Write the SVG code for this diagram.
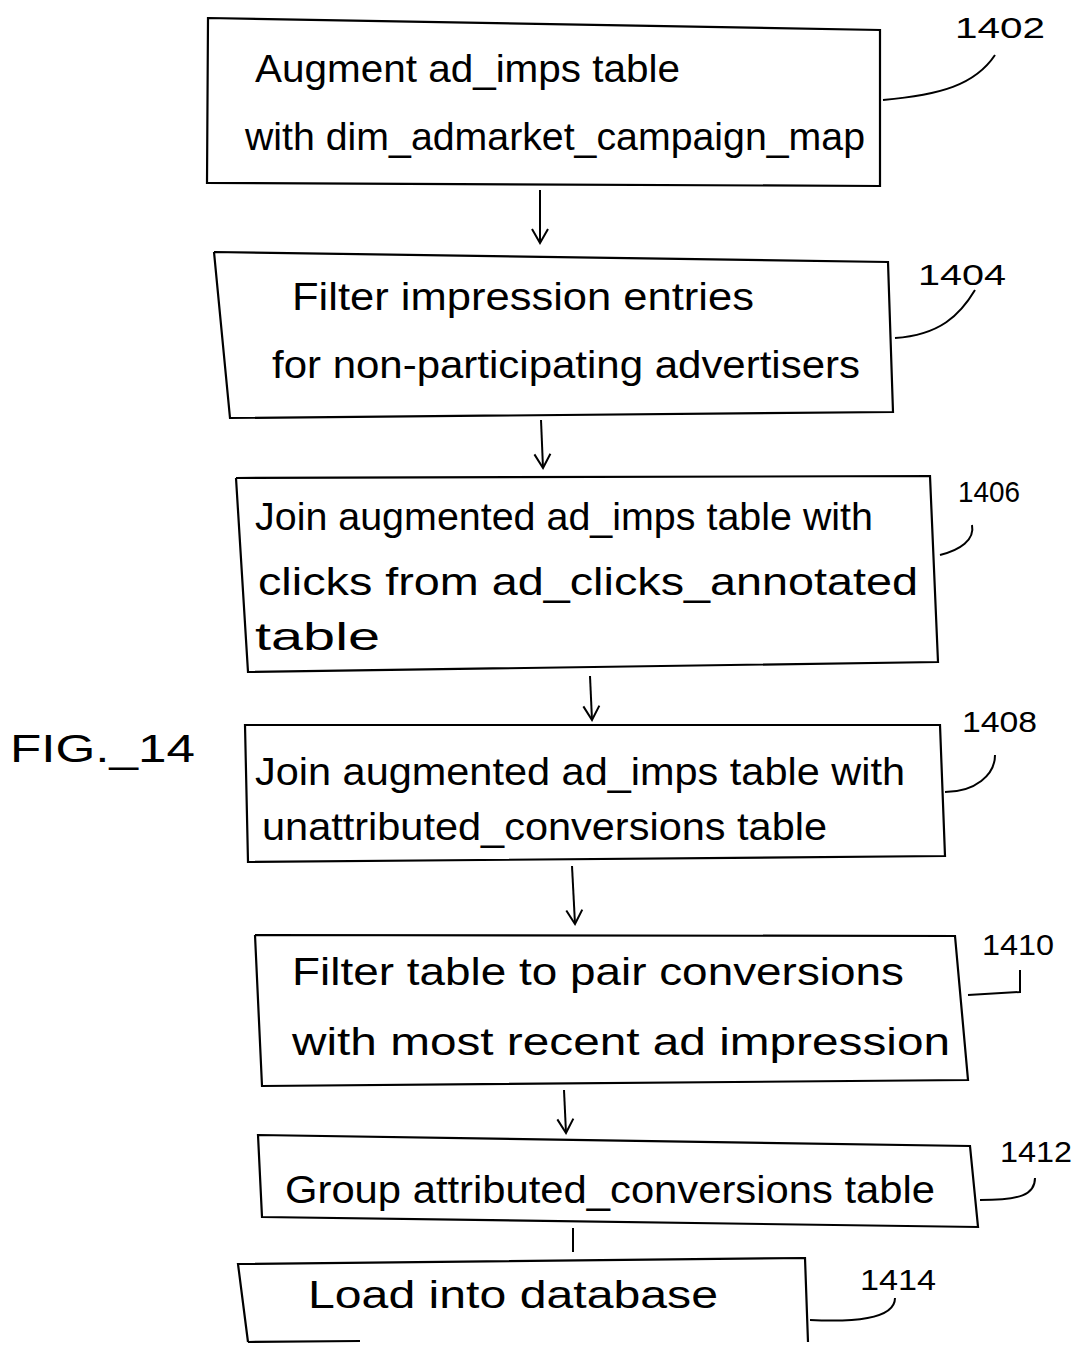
<svg xmlns="http://www.w3.org/2000/svg" width="1075" height="1347" viewBox="0 0 1075 1347">
<style>
.box{fill:none;stroke:#000;stroke-width:2.2;stroke-linejoin:miter}
.ln{fill:none;stroke:#000;stroke-width:2}
.t{font-family:"Liberation Sans",sans-serif;font-size:38px;fill:#000}
.n{font-family:"Liberation Sans",sans-serif;font-size:30px;fill:#000}
</style>
<defs>
<marker id="ah" viewBox="0 0 20 20" refX="18" refY="10" markerWidth="20" markerHeight="20" markerUnits="userSpaceOnUse" orient="auto">
<path d="M4,2 L18,10 L4,18" fill="none" stroke="#000" stroke-width="2"/>
</marker>
</defs>
<rect width="1075" height="1347" fill="#fff"/>
<g id="connectors">
<path class="ln" d="M540,190 L540,243" marker-end="url(#ah)"/>
<path class="ln" d="M541,420 L543,468" marker-end="url(#ah)"/>
<path class="ln" d="M590,676 L592,720" marker-end="url(#ah)"/>
<path class="ln" d="M572,866 L575,924" marker-end="url(#ah)"/>
<path class="ln" d="M564,1090 L566,1133" marker-end="url(#ah)"/>
<path class="ln" d="M573,1228 L573,1252"/>
</g>
<g id="n1402">
<path class="box" d="M208,18 L880,30 L880,186 L207,183 Z"/>
<text class="t" x="255" y="82" textLength="425" lengthAdjust="spacingAndGlyphs">Augment ad_imps table</text>
<text class="t" x="245" y="150" textLength="620" lengthAdjust="spacingAndGlyphs">with dim_admarket_campaign_map</text>
<text class="n" x="955" y="38" textLength="90" lengthAdjust="spacingAndGlyphs">1402</text>
<path class="ln" d="M883,100 C940,95 975,85 995,55"/>
</g>
<g id="n1404">
<path class="box" d="M214,252 L888,262 L893,412 L230,418 L214,252"/>
<text class="t" x="292" y="310" textLength="462" lengthAdjust="spacingAndGlyphs">Filter impression entries</text>
<text class="t" x="272" y="378" textLength="588" lengthAdjust="spacingAndGlyphs">for non-participating advertisers</text>
<text class="n" x="918" y="285" textLength="88" lengthAdjust="spacingAndGlyphs">1404</text>
<path class="ln" d="M895,338 C940,335 960,315 975,290"/>
</g>
<g id="n1406">
<path class="box" d="M236,478 L930,476 L938,662 L248,672 L236,478"/>
<text class="t" x="255" y="530" textLength="618" lengthAdjust="spacingAndGlyphs">Join augmented ad_imps table with</text>
<text class="t" x="258" y="595" textLength="660" lengthAdjust="spacingAndGlyphs">clicks from ad_clicks_annotated</text>
<text class="t" x="255" y="650" textLength="125" lengthAdjust="spacingAndGlyphs">table</text>
<text class="n" x="958" y="502" textLength="62" lengthAdjust="spacingAndGlyphs">1406</text>
<path class="ln" d="M940,555 C960,550 975,540 972,525"/>
</g>
<g id="n1408">
<path class="box" d="M245,725 L940,725 L945,856 L248,862 Z"/>
<text class="t" x="255" y="785" textLength="650" lengthAdjust="spacingAndGlyphs">Join augmented ad_imps table with</text>
<text class="t" x="262" y="840" textLength="565" lengthAdjust="spacingAndGlyphs">unattributed_conversions table</text>
<text class="n" x="962" y="732" textLength="75" lengthAdjust="spacingAndGlyphs">1408</text>
<path class="ln" d="M945,792 C975,792 995,775 995,755"/>
</g>
<g id="n1410">
<path class="box" d="M255,935 L955,936 L968,1080 L262,1086 L255,935"/>
<text class="t" x="292" y="985" textLength="612" lengthAdjust="spacingAndGlyphs">Filter table to pair conversions</text>
<text class="t" x="292" y="1055" textLength="658" lengthAdjust="spacingAndGlyphs">with most recent ad impression</text>
<text class="n" x="982" y="955" textLength="72" lengthAdjust="spacingAndGlyphs">1410</text>
<path class="ln" d="M968,995 L1020,992 L1020,970"/>
</g>
<g id="n1412">
<path class="box" d="M258,1135 L970,1146 L978,1227 L262,1217 Z"/>
<text class="t" x="285" y="1203" textLength="650" lengthAdjust="spacingAndGlyphs">Group attributed_conversions table</text>
<text class="n" x="1000" y="1162" textLength="72" lengthAdjust="spacingAndGlyphs">1412</text>
<path class="ln" d="M980,1200 C1020,1200 1035,1195 1035,1178"/>
</g>
<g id="n1414">
<path class="box" d="M248,1342 L238,1264 L805,1258 L808,1342"/>
<path class="box" d="M248,1342 L360,1341"/>
<text class="t" x="308" y="1308" textLength="410" lengthAdjust="spacingAndGlyphs">Load into database</text>
<text class="n" x="860" y="1290" textLength="76" lengthAdjust="spacingAndGlyphs">1414</text>
<path class="ln" d="M810,1320 C850,1322 895,1320 895,1298"/>
</g>
<g id="fig">
<text class="t" x="10" y="762" textLength="185" lengthAdjust="spacingAndGlyphs">FIG._14</text>
</g>
</svg>
